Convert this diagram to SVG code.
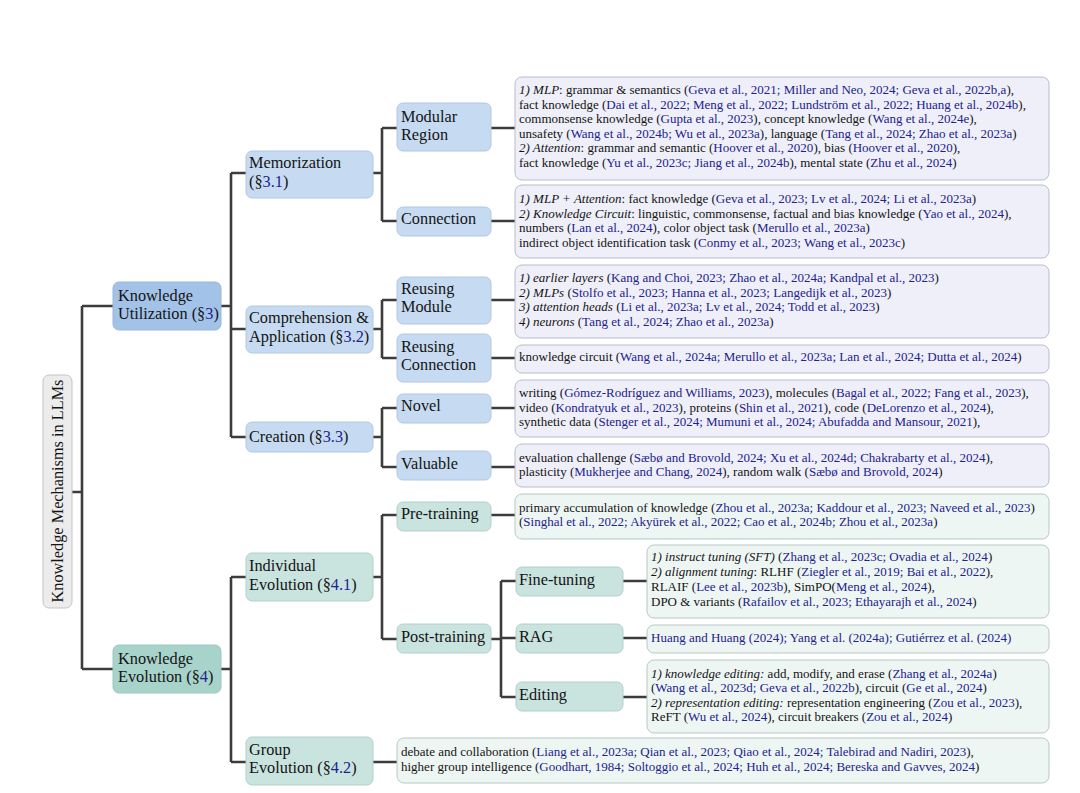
<svg xmlns="http://www.w3.org/2000/svg" width="1080" height="793" viewBox="0 0 1080 793">
<style>
.t{font-family:"Liberation Serif","Times New Roman",serif;font-size:16.3px;fill:#141414}
.l{font-family:"Liberation Serif","Times New Roman",serif;font-size:13px;fill:#141414}
.c{fill:#22228c}
.i{font-style:italic}
.root{fill:#ececec;stroke:#c4c4c4;stroke-width:1}
.ku1{fill:#a3c2e8;stroke:#98b6dc;stroke-width:1}
.ku{fill:#c6dbf1;stroke:#b2c8e2;stroke-width:1}
.kul{fill:#eeeff9;stroke:#b9bccb;stroke-width:1}
.ke1{fill:#a7d3cb;stroke:#9cc8c0;stroke-width:1}
.ke{fill:#c9e3df;stroke:#b4d0cb;stroke-width:1}
.kel{fill:#eef6f4;stroke:#b8c8c4;stroke-width:1}
#connectors path{fill:none;stroke:#3c3c3c;stroke-width:2.6}
</style>
<rect width="1080" height="793" fill="#ffffff"/>
<g id="connectors">
<path d="M72 492H82M82 306V669M82 306H113M82 669H113"/>
<path d="M221 306H231M231 173V437M231 173H246M231 329H246M231 437H246"/>
<path d="M373 173H382M382 128V221M382 128H397M382 221H397"/>
<path d="M373 329H382M382 300V358M382 300H397M382 358H397"/>
<path d="M373 437H382M382 408V467M382 408H397M382 467H397"/>
<path d="M491 128H515M491 221H515M491 300H515M491 358H515M491 408H515M491 467H515M491 515H515"/>
<path d="M221 669H231M231 577V762M231 577H246M231 762H246"/>
<path d="M373 577H382M382 515V639M382 515H397M382 639H397"/>
<path d="M491 639H501M501 581V697M501 581H516M501 638H516M501 697H516"/>
<path d="M623 581H647M623 638H647M623 697H647M373 762H397"/>
</g>
<g id="root"><rect class="root" x="43" y="375" width="29" height="233" rx="6"/><text class="t" font-size="15.5" text-anchor="middle" transform="translate(63 491) rotate(-90)">Knowledge Mechanisms in LLMs</text></g>
<g id="ku"><rect class="ku1" x="113" y="282" width="108" height="48" rx="6"/><text class="t" x="118" y="301">Knowledge</text><text class="t" x="118" y="319">Utilization (§<tspan class="c">3</tspan>)</text></g>
<g id="ke"><rect class="ke1" x="113" y="645" width="108" height="48" rx="6"/><text class="t" x="118" y="664">Knowledge</text><text class="t" x="118" y="682">Evolution (§<tspan class="c">4</tspan>)</text></g>
<g id="mem"><rect class="ku" x="246" y="151" width="127" height="47" rx="6"/><text class="t" x="249" y="168">Memorization</text><text class="t" x="249" y="187">(§<tspan class="c">3.1</tspan>)</text></g>
<g id="comp"><rect class="ku" x="246" y="306" width="127" height="47" rx="6"/><text class="t" x="249" y="323">Comprehension &amp;</text><text class="t" x="249" y="342">Application (§<tspan class="c">3.2</tspan>)</text></g>
<g id="crea"><rect class="ku" x="246" y="422" width="127" height="30" rx="6"/><text class="t" x="249" y="442">Creation (§<tspan class="c">3.3</tspan>)</text></g>
<g id="modreg"><rect class="ku" x="397" y="103" width="94" height="48" rx="6"/><text class="t" x="401" y="122">Modular</text><text class="t" x="401" y="140">Region</text></g>
<g id="conn"><rect class="ku" x="397" y="207" width="94" height="29" rx="6"/><text class="t" x="401" y="224">Connection</text></g>
<g id="reumod"><rect class="ku" x="397" y="277" width="94" height="47" rx="6"/><text class="t" x="401" y="294">Reusing</text><text class="t" x="401" y="312">Module</text></g>
<g id="reuconn"><rect class="ku" x="397" y="334" width="94" height="48" rx="6"/><text class="t" x="401" y="352">Reusing</text><text class="t" x="401" y="370">Connection</text></g>
<g id="novel"><rect class="ku" x="397" y="394" width="94" height="29" rx="6"/><text class="t" x="401" y="411">Novel</text></g>
<g id="valuable"><rect class="ku" x="397" y="451" width="94" height="29" rx="6"/><text class="t" x="401" y="469">Valuable</text></g>
<g id="indiv"><rect class="ke" x="246" y="553" width="127" height="48" rx="6"/><text class="t" x="249" y="571">Individual</text><text class="t" x="249" y="590">Evolution (§<tspan class="c">4.1</tspan>)</text></g>
<g id="group"><rect class="ke" x="246" y="737" width="127" height="48" rx="6"/><text class="t" x="249" y="755">Group</text><text class="t" x="249" y="773">Evolution (§<tspan class="c">4.2</tspan>)</text></g>
<g id="pre"><rect class="ke" x="397" y="502" width="94" height="29" rx="6"/><text class="t" x="401" y="519">Pre-training</text></g>
<g id="post"><rect class="ke" x="397" y="624" width="94" height="29" rx="6"/><text class="t" x="401" y="642">Post-training</text></g>
<g id="fine"><rect class="ke" x="516" y="567" width="107" height="29" rx="6"/><text class="t" x="519" y="585">Fine-tuning</text></g>
<g id="rag"><rect class="ke" x="516" y="624" width="107" height="29" rx="6"/><text class="t" x="519" y="642">RAG</text></g>
<g id="edit"><rect class="ke" x="516" y="682" width="107" height="29" rx="6"/><text class="t" x="519" y="700">Editing</text></g>
<g id="leaf-modreg"><rect class="kul" x="515" y="77" width="534" height="103" rx="7"/>
<text class="l" x="519" y="94"><tspan class="i">1) MLP</tspan>: grammar &amp; semantics (<tspan class="c">Geva et al., 2021; Miller and Neo, 2024; Geva et al., 2022b,a</tspan>),</text>
<text class="l" x="519" y="109">fact knowledge (<tspan class="c">Dai et al., 2022; Meng et al., 2022; Lundström et al., 2022; Huang et al., 2024b</tspan>),</text>
<text class="l" x="519" y="123">commonsense knowledge (<tspan class="c">Gupta et al., 2023</tspan>), concept knowledge (<tspan class="c">Wang et al., 2024e</tspan>),</text>
<text class="l" x="519" y="138">unsafety (<tspan class="c">Wang et al., 2024b; Wu et al., 2023a</tspan>), language (<tspan class="c">Tang et al., 2024; Zhao et al., 2023a</tspan>)</text>
<text class="l" x="519" y="152"><tspan class="i">2) Attention</tspan>:  grammar and semantic (<tspan class="c">Hoover et al., 2020</tspan>), bias (<tspan class="c">Hoover et al., 2020</tspan>),</text>
<text class="l" x="519" y="167">fact knowledge (<tspan class="c">Yu et al., 2023c; Jiang et al., 2024b</tspan>), mental state (<tspan class="c">Zhu et al., 2024</tspan>)</text></g>
<g id="leaf-conn"><rect class="kul" x="515" y="185" width="534" height="73" rx="7"/>
<text class="l" x="519" y="203"><tspan class="i">1) MLP + Attention</tspan>: fact knowledge (<tspan class="c">Geva et al., 2023; Lv et al., 2024; Li et al., 2023a</tspan>)</text>
<text class="l" x="519" y="217.5"><tspan class="i">2) Knowledge Circuit</tspan>: linguistic, commonsense, factual and bias knowledge (<tspan class="c">Yao et al., 2024</tspan>),</text>
<text class="l" x="519" y="232">numbers (<tspan class="c">Lan et al., 2024</tspan>), color object task (<tspan class="c">Merullo et al., 2023a</tspan>)</text>
<text class="l" x="519" y="246.5">indirect object identification task (<tspan class="c">Conmy et al., 2023; Wang et al., 2023c</tspan>)</text></g>
<g id="leaf-reumod"><rect class="kul" x="515" y="265" width="534" height="73" rx="7"/>
<text class="l" x="519" y="282"><tspan class="i">1) earlier layers</tspan> (<tspan class="c">Kang and Choi, 2023; Zhao et al., 2024a; Kandpal et al., 2023</tspan>)</text>
<text class="l" x="519" y="297"><tspan class="i">2) MLPs</tspan> (<tspan class="c">Stolfo et al., 2023; Hanna et al., 2023; Langedijk et al., 2023</tspan>)</text>
<text class="l" x="519" y="311"><tspan class="i">3) attention heads</tspan> (<tspan class="c">Li et al., 2023a; Lv et al., 2024; Todd et al., 2023</tspan>)</text>
<text class="l" x="519" y="326"><tspan class="i">4) neurons</tspan> (<tspan class="c">Tang et al., 2024; Zhao et al., 2023a</tspan>)</text></g>
<g id="leaf-reuconn"><rect class="kul" x="515" y="345" width="534" height="28" rx="7"/>
<text class="l" x="519" y="361">knowledge circuit (<tspan class="c">Wang et al., 2024a; Merullo et al., 2023a; Lan et al., 2024; Dutta et al., 2024</tspan>)</text></g>
<g id="leaf-novel"><rect class="kul" x="515" y="380" width="534" height="57" rx="7"/>
<text class="l" x="519" y="397">writing (<tspan class="c">Gómez-Rodríguez and Williams, 2023</tspan>), molecules (<tspan class="c">Bagal et al., 2022; Fang et al., 2023</tspan>),</text>
<text class="l" x="519" y="412">video (<tspan class="c">Kondratyuk et al., 2023</tspan>), proteins (<tspan class="c">Shin et al., 2021</tspan>), code (<tspan class="c">DeLorenzo et al., 2024</tspan>),</text>
<text class="l" x="519" y="426">synthetic data (<tspan class="c">Stenger et al., 2024; Mumuni et al., 2024; Abufadda and Mansour, 2021</tspan>),</text></g>
<g id="leaf-valuable"><rect class="kul" x="515" y="444" width="534" height="43" rx="7"/>
<text class="l" x="519" y="462">evaluation challenge (<tspan class="c">Sæbø and Brovold, 2024; Xu et al., 2024d; Chakrabarty et al., 2024</tspan>),</text>
<text class="l" x="519" y="476">plasticity (<tspan class="c">Mukherjee and Chang, 2024</tspan>), random walk (<tspan class="c">Sæbø and Brovold, 2024</tspan>)</text></g>
<g id="leaf-pre"><rect class="kel" x="515" y="494" width="534" height="45" rx="7"/>
<text class="l" x="519" y="512">primary accumulation of knowledge (<tspan class="c">Zhou et al., 2023a; Kaddour et al., 2023; Naveed et al., 2023</tspan>)</text>
<text class="l" x="519" y="526">(<tspan class="c">Singhal et al., 2022; Akyürek et al., 2022; Cao et al., 2024b; Zhou et al., 2023a</tspan>)</text></g>
<g id="leaf-fine"><rect class="kel" x="647" y="545" width="402" height="73" rx="7"/>
<text class="l" x="651" y="561"><tspan class="i">1) instruct tuning (SFT)</tspan> (<tspan class="c">Zhang et al., 2023c; Ovadia et al., 2024</tspan>)</text>
<text class="l" x="651" y="576"><tspan class="i">2) alignment tuning</tspan>: RLHF (<tspan class="c">Ziegler et al., 2019; Bai et al., 2022</tspan>),</text>
<text class="l" x="651" y="591">RLAIF (<tspan class="c">Lee et al., 2023b</tspan>), SimPO(<tspan class="c">Meng et al., 2024</tspan>),</text>
<text class="l" x="651" y="606">DPO &amp; variants (<tspan class="c">Rafailov et al., 2023; Ethayarajh et al., 2024</tspan>)</text></g>
<g id="leaf-rag"><rect class="kel" x="647" y="625" width="402" height="28" rx="7"/>
<text class="l c" x="651" y="642">Huang and Huang (2024); Yang et al. (2024a); Gutiérrez et al. (2024)</text></g>
<g id="leaf-edit"><rect class="kel" x="647" y="660" width="402" height="73" rx="7"/>
<text class="l" x="651" y="678"><tspan class="i">1) knowledge editing:</tspan> add, modify, and erase (<tspan class="c">Zhang et al., 2024a</tspan>)</text>
<text class="l" x="651" y="692">(<tspan class="c">Wang et al., 2023d; Geva et al., 2022b</tspan>), circuit (<tspan class="c">Ge et al., 2024</tspan>)</text>
<text class="l" x="651" y="707"><tspan class="i">2) representation editing:</tspan> representation engineering (<tspan class="c">Zou et al., 2023</tspan>),</text>
<text class="l" x="651" y="721">ReFT (<tspan class="c">Wu et al., 2024</tspan>), circuit breakers (<tspan class="c">Zou et al., 2024</tspan>)</text></g>
<g id="leaf-group"><rect class="kel" x="397" y="738" width="652" height="45" rx="7"/>
<text class="l" x="401" y="756">debate and collaboration (<tspan class="c">Liang et al., 2023a; Qian et al., 2023; Qiao et al., 2024; Talebirad and Nadiri, 2023</tspan>),</text>
<text class="l" x="401" y="771">higher group intelligence (<tspan class="c">Goodhart, 1984; Soltoggio et al., 2024; Huh et al., 2024; Bereska and Gavves, 2024</tspan>)</text></g>
</svg>
